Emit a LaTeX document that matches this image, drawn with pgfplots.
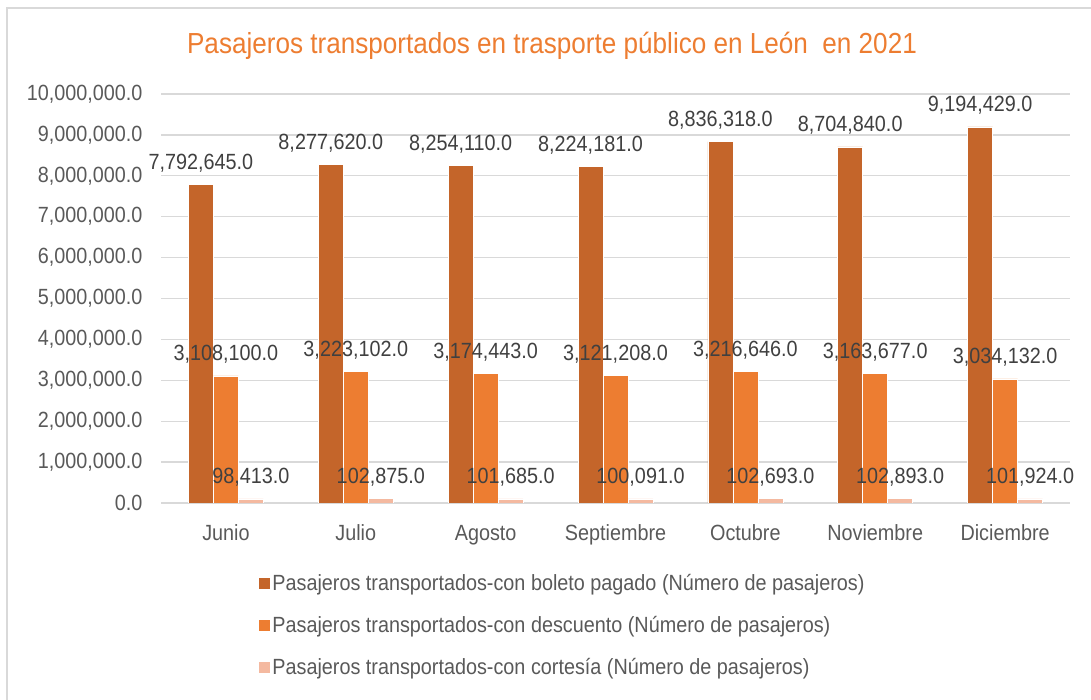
\documentclass[border=0pt]{standalone}
\usepackage{fontspec}
\setmainfont{Liberation Sans}[FakeStretch=0.9]
\usepackage{pgfplots}
\usepackage{pgfplotstable}
\pgfplotsset{compat=1.18}
\definecolor{pagado}{HTML}{C4652A}
\definecolor{descuento}{HTML}{ED7D31}
\definecolor{cortesia}{HTML}{F4B9A0}
\definecolor{etiqueta}{HTML}{404040}
\definecolor{ejes}{HTML}{595959}
\definecolor{rejilla}{HTML}{D9D9D9}
\definecolor{titulo}{HTML}{ED7D31}

\pgfplotstableread{
x pagado descuento cortesia
0 7792645 3108100 98413
1 8277620 3223102 102875
2 8254110 3174443 101685
3 8224181 3121208 100091
4 8836318 3216646 102693
5 8704840 3163677 102893
6 9194429 3034132 101924
}\datos

\begin{document}
\begin{tikzpicture}[x=1pt,y=1pt]
\useasboundingbox (0,0) rectangle (1091,700);
% marco del grafico
\draw[rejilla, line width=1.5pt] (7,0) -- (7,692) -- (1091,692);
\node[titulo, font=\fontsize{29}{34}\selectfont] at (552,654)
  {Pasajeros transportados en trasporte público en León\ \ en 2021};
\begin{axis}[
    at={(161pt,197pt)}, anchor=south west,
    scale only axis, width=909pt, height=409pt,
    ybar=0pt, bar width=25pt,
    xmin=-0.5, xmax=6.5, ymin=0, ymax=10000000,
    xtick={0,...,6},
    xticklabels={Junio,Julio,Agosto,Septiembre,Octubre,Noviembre,Diciembre},
    ytick={0,1000000,...,10000000},
    scaled y ticks=false,
    yticklabel={\pgfmathprintnumber[fixed,fixed zerofill,precision=1,1000 sep={,}]{\tick}},
    /pgf/number format/assume math mode=true,
    tick label style={font=\fontsize{22}{26}\selectfont, text=ejes},
    xticklabel style={yshift=-18pt, text height=16pt, text depth=5pt},
    yticklabel style={xshift=-15pt},
    major tick length=0pt,
    axis line style={draw=none},
    ymajorgrids, grid style={rejilla, line width=1.3pt},
    point meta=explicit symbolic,
    nodes near coords={\pgfmathprintnumber[fixed,fixed zerofill,precision=1,1000 sep={,}]{\pgfplotspointmeta}},
    nodes near coords style={font=\fontsize{22}{26}\selectfont, text=etiqueta,
      anchor=south, inner sep=0pt, yshift=12pt},
    legend style={at={(0.103,-0.165)}, anchor=north west, draw=none, fill=none,
      font=\fontsize{22}{26}\selectfont, text=ejes, row sep=20pt,
      nodes={inner sep=2pt}},
    legend cell align=left,
    legend image code/.code={\fill[#1] (0pt,-6pt) rectangle (12pt,6pt);},
]
\addplot[fill=pagado, draw=white, line width=0.6pt] table[x=x, y=pagado, meta=pagado] {\datos};
\addplot[fill=descuento, draw=white, line width=0.6pt] table[x=x, y=descuento, meta=descuento] {\datos};
\addplot[fill=cortesia, draw=white, line width=0.6pt] table[x=x, y=cortesia, meta=cortesia] {\datos};
\legend{Pasajeros transportados-con boleto pagado (Número de pasajeros),
        Pasajeros transportados-con descuento (Número de pasajeros),
        Pasajeros transportados-con cortesía (Número de pasajeros)}
\end{axis}
\end{tikzpicture}
\end{document}
